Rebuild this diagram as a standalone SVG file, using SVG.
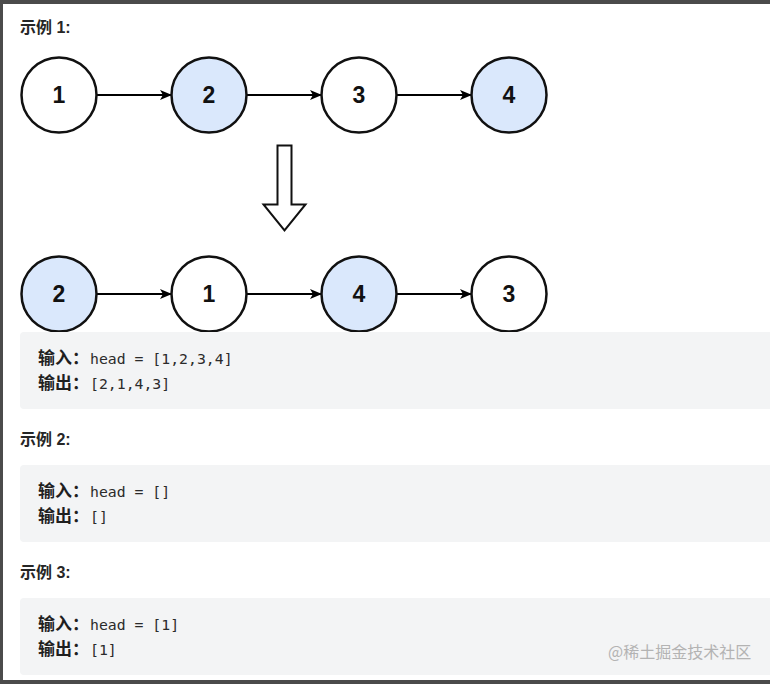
<svg xmlns="http://www.w3.org/2000/svg" width="770" height="684" viewBox="0 0 770 684">
<defs>
<marker id="ah" markerWidth="12" markerHeight="12" refX="11" refY="6" orient="auto" markerUnits="userSpaceOnUse">
<path d="M0,1 L12,6 L0,11 L3,6 Z" fill="#000"/>
</marker>
</defs>
<style>
.n circle{stroke:#111;stroke-width:2.5;fill:#fff}
.n.b circle{fill:#dae8fc}
.n text{font-family:"Liberation Sans",Arial,sans-serif;font-weight:bold;font-size:23px;fill:#111;text-anchor:middle}
.c line{stroke:#000;stroke-width:2}
.h{font-family:"Liberation Sans","Noto Sans CJK SC",sans-serif;font-weight:bold;font-size:16px;fill:#262626}
.box{fill:#f3f4f5}
.cj{font-family:"Noto Sans CJK SC",sans-serif;font-weight:bold;font-size:17px;fill:#1f1f1f}
.mo{font-family:"DejaVu Sans Mono","Liberation Mono",monospace;font-size:14.8px;fill:#2b2b2b}
.wm{font-family:"Noto Sans CJK SC",sans-serif;font-size:16px;fill:#b3b3b3}
</style>
<rect x="0" y="0" width="770" height="684" fill="#fff"/>
<rect x="0" y="0" width="770" height="4" fill="#4b4b4b"/>
<rect x="0" y="0" width="3" height="684" fill="#4b4b4b"/>
<rect x="0" y="680" width="770" height="4" fill="#4b4b4b"/>

<text class="h" x="20" y="33">示例 1:</text>

<g class="c" id="connectors">
<line x1="97" y1="95" x2="171" y2="95" marker-end="url(#ah)"/>
<line x1="247" y1="95" x2="321" y2="95" marker-end="url(#ah)"/>
<line x1="397" y1="95" x2="471" y2="95" marker-end="url(#ah)"/>
<line x1="97" y1="294" x2="171" y2="294" marker-end="url(#ah)"/>
<line x1="247" y1="294" x2="321" y2="294" marker-end="url(#ah)"/>
<line x1="397" y1="294" x2="471" y2="294" marker-end="url(#ah)"/>
</g>

<g id="t1" class="n"><circle cx="59" cy="95" r="37.5"/><text x="59" y="103">1</text></g>
<g id="t2" class="n b"><circle cx="209" cy="95" r="37.5"/><text x="209" y="103">2</text></g>
<g id="t3" class="n"><circle cx="359" cy="95" r="37.5"/><text x="359" y="103">3</text></g>
<g id="t4" class="n b"><circle cx="509" cy="95" r="37.5"/><text x="509" y="103">4</text></g>

<g id="bigarrow">
<path d="M277.5,145.5 L291.5,145.5 L291.5,204.5 L305.5,204.5 L284.5,230.5 L263.5,204.5 L277.5,204.5 Z" fill="#fff" stroke="#111" stroke-width="2"/>
</g>

<g id="b2" class="n b"><circle cx="59" cy="294" r="37.5"/><text x="59" y="302">2</text></g>
<g id="b1" class="n"><circle cx="209" cy="294" r="37.5"/><text x="209" y="302">1</text></g>
<g id="b4" class="n b"><circle cx="359" cy="294" r="37.5"/><text x="359" y="302">4</text></g>
<g id="b3" class="n"><circle cx="509" cy="294" r="37.5"/><text x="509" y="302">3</text></g>

<rect class="box" x="20" y="332" width="760" height="77" rx="4"/>
<text class="cj" x="38" y="364">输入：</text><text class="mo" x="90" y="364">head = [1,2,3,4]</text>
<text class="cj" x="38" y="389">输出：</text><text class="mo" x="90" y="389">[2,1,4,3]</text>

<text class="h" x="20" y="445">示例 2:</text>
<rect class="box" x="20" y="465" width="760" height="77" rx="4"/>
<text class="cj" x="38" y="497">输入：</text><text class="mo" x="90" y="497">head = []</text>
<text class="cj" x="38" y="522">输出：</text><text class="mo" x="90" y="522">[]</text>

<text class="h" x="20" y="578">示例 3:</text>
<rect class="box" x="20" y="598" width="760" height="77" rx="4"/>
<text class="cj" x="38" y="630">输入：</text><text class="mo" x="90" y="630">head = [1]</text>
<text class="cj" x="38" y="655">输出：</text><text class="mo" x="90" y="655">[1]</text>

<text class="wm" x="608" y="658">@稀土掘金技术社区</text>
</svg>
